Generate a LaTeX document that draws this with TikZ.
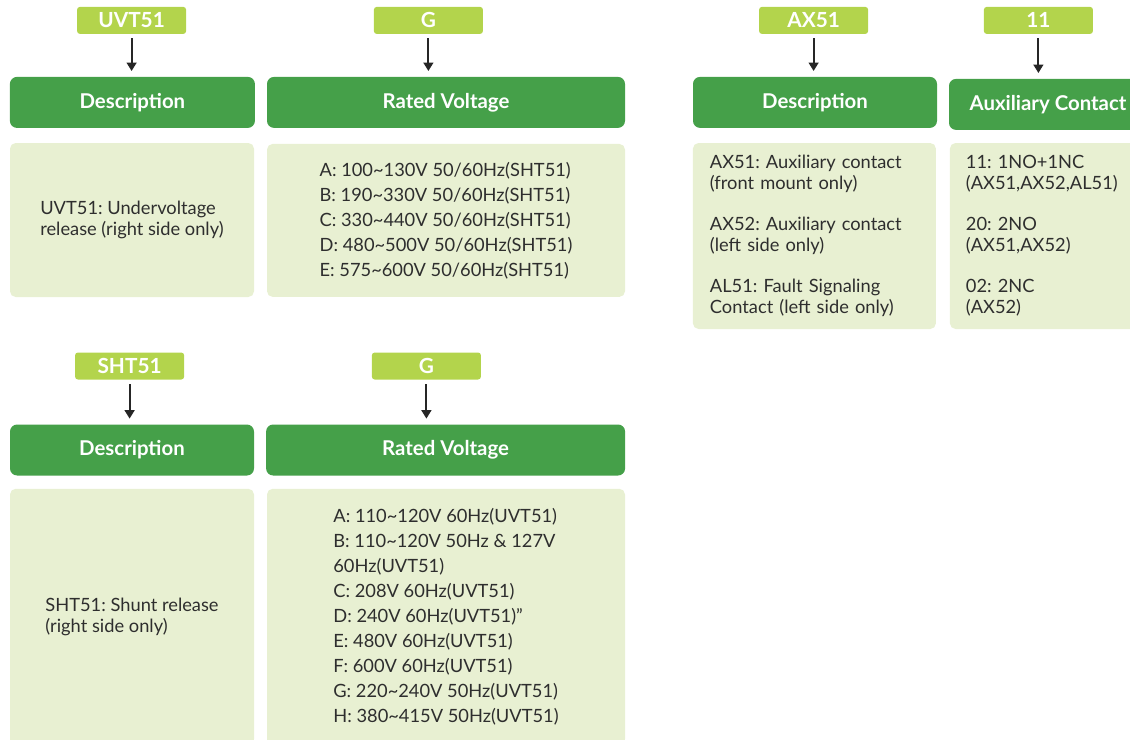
\documentclass[tikz,border=0pt]{standalone}
\usepackage{fontspec}
\setmainfont{Lato}
\usetikzlibrary{arrows.meta}
\definecolor{tagLime}{HTML}{B3D44C}
\definecolor{headGreen}{HTML}{45A049}
\definecolor{bodyGreen}{HTML}{E8F0D2}
\definecolor{textGray}{HTML}{2E2E2E}
\frenchspacing
\begin{document}
\begin{tikzpicture}[
  tag/.style={fill=tagLime, rounded corners=2pt, minimum width=2.725cm, minimum height=0.675cm, inner sep=0pt, text=white, font=\bfseries\fontsize{14.8}{15}\selectfont},
  header/.style={fill=headGreen, rounded corners=5pt, minimum height=1.275cm, inner sep=0pt, text=white, font=\bfseries\fontsize{14.5}{15}\selectfont},
  body/.style={fill=bodyGreen, rounded corners=4pt, inner sep=0pt, align=left, text=textGray, font=\fontsize{13}{14.9}\selectfont},
  volts/.style={body, font=\fontsize{13}{17.8}\selectfont},
  arrow/.style={-{Triangle[length=6pt,width=7pt]}, line width=1.3pt, draw=black!85, shorten <=3pt, shorten >=4pt}
]
\clip (0,0) rectangle (28.25,-18.5);

% undervoltage release
\node[tag] (uvt) at (3.29,-0.51) {UVT51};
\node[tag] (gUvt) at (10.71,-0.51) {G};
\node[header, minimum width=6.125cm] (descUvt) at (3.31,-2.56) {Description};
\node[header, minimum width=8.95cm] (voltUvt) at (11.15,-2.56) {Rated Voltage};
\node[body, minimum width=6.1cm, minimum height=3.85cm] (bodyUvt) at (3.3,-5.5)
  {UVT51: Undervoltage\\release (right side only)};
\node[volts, minimum width=8.95cm, minimum height=3.825cm] (bodyVoltUvt) at (11.15,-5.51)
  {A: 100\textasciitilde130V 50/60Hz(SHT51)\\B: 190\textasciitilde330V 50/60Hz(SHT51)\\C: 330\textasciitilde440V 50/60Hz(SHT51)\\D: 480\textasciitilde500V 50/60Hz(SHT51)\\E: 575\textasciitilde600V 50/60Hz(SHT51)};

% auxiliary contact
\node[tag] (ax) at (20.34,-0.51) {AX51};
\node[tag] (c11) at (25.96,-0.51) {11};
\node[header, minimum width=6.1cm] (descAx) at (20.375,-2.56) {Description};
\node[header, minimum width=4.95cm] (aux) at (26.2,-2.61) {Auxiliary Contact};
\node[body, text width=5.225cm, inner xsep=0.425cm, minimum height=4.65cm] (bodyAx) at (20.36,-5.9)
  {AX51: Auxiliary contact\\(front mount only)\\[14.2pt]AX52: Auxiliary contact\\(left side only)\\[14.2pt]AL51: Fault Signaling\\Contact (left side only)};
\node[body, text width=4.125cm, inner xsep=0.4cm, minimum height=4.65cm] (bodyAux) at (26.21,-5.9)
  {11: 1NO+1NC\\(AX51,AX52,AL51)\\[14.2pt]20: 2NO\\(AX51,AX52)\\[14.2pt]02: 2NC\\(AX52)};

% shunt release
\node[tag] (sht) at (3.24,-9.15) {SHT51};
\node[tag] (gSht) at (10.66,-9.15) {G};
\node[header, minimum width=6.1cm] (descSht) at (3.3,-11.25) {Description};
\node[header, minimum width=8.975cm] (voltSht) at (11.14,-11.25) {Rated Voltage};
\node[body, minimum width=6.1cm, minimum height=6.4cm] (bodySht) at (3.3,-15.42)
  {SHT51: Shunt release\\(right side only)};
\node[volts, minimum width=8.95cm, minimum height=6.4cm] (bodyVoltSht) at (11.15,-15.42)
  {A: 110\textasciitilde120V 60Hz(UVT51)\\B: 110\textasciitilde120V 50Hz \& 127V\\60Hz(UVT51)\\C: 208V 60Hz(UVT51)\\D: 240V 60Hz(UVT51)''\\E: 480V 60Hz(UVT51)\\F: 600V 60Hz(UVT51)\\G: 220\textasciitilde240V 50Hz(UVT51)\\H: 380\textasciitilde415V 50Hz(UVT51)};

\draw[arrow] (uvt.south) -- (uvt.south |- descUvt.north);
\draw[arrow] (gUvt.south) -- (gUvt.south |- voltUvt.north);
\draw[arrow] (ax.south) -- (ax.south |- descAx.north);
\draw[arrow] (c11.south) -- (c11.south |- aux.north);
\draw[arrow] (sht.south) -- (sht.south |- descSht.north);
\draw[arrow] (gSht.south) -- (gSht.south |- voltSht.north);
\end{tikzpicture}
\end{document}
